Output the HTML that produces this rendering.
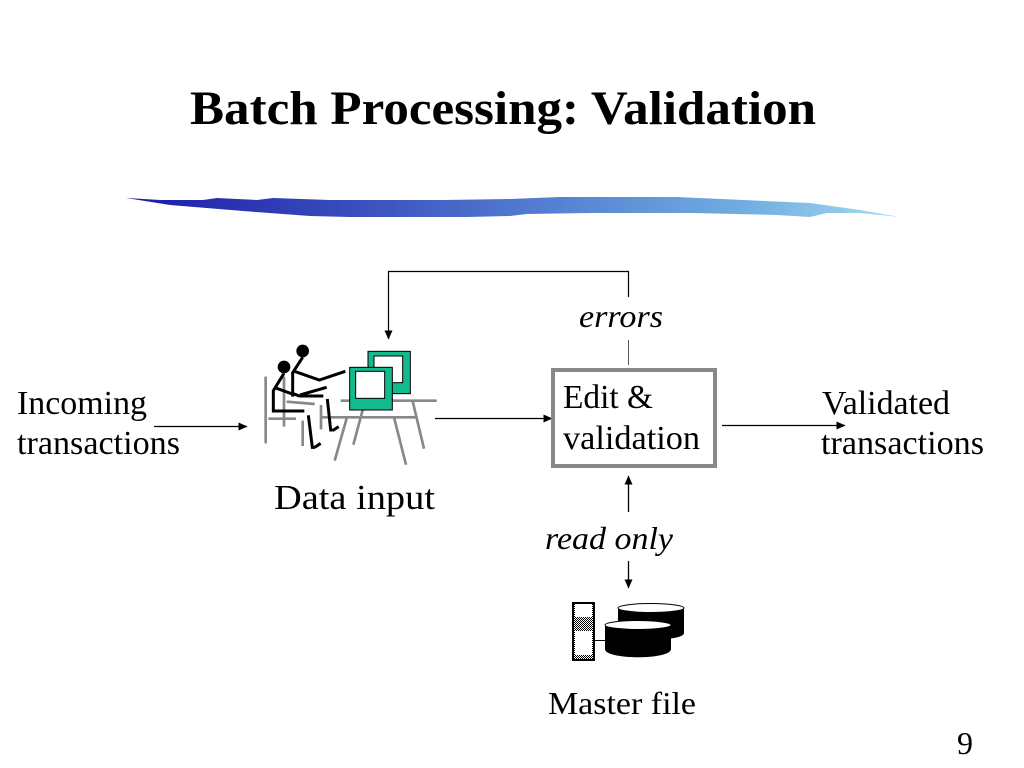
<!DOCTYPE html>
<html>
<head>
<meta charset="utf-8">
<style>
html,body{margin:0;padding:0;background:#fff;width:1024px;height:768px;overflow:hidden}
svg{display:block}
text{font-family:"Liberation Serif",serif;fill:#000}
</style>
</head>
<body>
<svg width="1024" height="768" viewBox="0 0 1024 768" xmlns="http://www.w3.org/2000/svg">
<defs>
<linearGradient id="b" x1="125" x2="900" y1="0" y2="0" gradientUnits="userSpaceOnUse">
<stop offset="0" stop-color="#1a1aa6"/>
<stop offset=".3" stop-color="#3a4fbd"/>
<stop offset=".55" stop-color="#5580d2"/>
<stop offset=".8" stop-color="#70ade0"/>
<stop offset="1" stop-color="#a8ddf2"/>
</linearGradient>
<marker id="a" markerWidth="9" markerHeight="8" refX="8.500" refY="4" orient="auto" markerUnits="userSpaceOnUse"><path d="M0 0L9 4L0 8Z" fill="#000"/></marker>
<pattern id="d" width="2" height="2" patternUnits="userSpaceOnUse"><rect width="2" height="2" fill="#fff"/><rect width="1" height="1" fill="#000"/><rect x="1" y="1" width="1" height="1" fill="#000"/></pattern>
</defs>

<text x="190" y="124" font-size="48" font-weight="bold" textLength="626" lengthAdjust="spacingAndGlyphs">Batch Processing: Validation</text>

<path fill="url(#b)" d="M126 198L160 200L203 200L217 198L257 200L273 198L330 200L443 200L510 199L560 197L677 197L743 200L810 203L860 210L900 217L860 213L827 213L810 217L777 215L693 213L590 213L527 214L510 216L467 217L350 217L310 216L243 211L170 205Z"/>

<!-- errors connector -->
<path d="M628.500 297V271.500H388.500V339" fill="none" stroke="#000" stroke-width="1.200" marker-end="url(#a)"/>
<path d="M628.500 340V365" stroke="#555" stroke-width="1"/>
<text x="579" y="327" font-size="32" font-style="italic" textLength="84" lengthAdjust="spacingAndGlyphs">errors</text>

<!-- person and desk -->
<g transform="translate(250 330) scale(.33333)" fill="none" stroke-linecap="butt">
<g stroke="#888" stroke-width="8">
<path d="M47 140V340M102 140V290M55 266H138M110 215L194 222M158 272V348M213 225V298M215 262H503"/>
<path d="M272 212H560M290 265L254 392M338 240L310 344M432 262L468 404M488 214L522 356"/>
</g>
<g stroke="#000" stroke-width="9">
<path d="M158 82L128 128V200M128 122L208 150L286 124M128 190L148 198H220M150 195L230 172"/>
<path d="M102 130L70 182V243H163M72 172L135 195M175 256L187 352L195 352M232 207L242 300L248 300M194 352L212 340M248 302L266 290"/>
</g>
<circle cx="158" cy="63" r="19" fill="#000"/>
<circle cx="102" cy="111" r="19" fill="#000"/>
<rect x="354" y="64" width="127" height="127" fill="#14b98c" stroke="#000" stroke-width="3"/>
<rect x="372" y="78" width="86" height="80" fill="#fff" stroke="#000" stroke-width="3"/>
<rect x="299" y="112" width="128" height="128" fill="#14b98c" stroke="#000" stroke-width="3"/>
<rect x="317" y="124" width="87" height="81" fill="#fff" stroke="#000" stroke-width="3"/>
</g>

<!-- left text -->
<text x="17" y="414" font-size="34" textLength="130" lengthAdjust="spacingAndGlyphs">Incoming</text>
<text x="17" y="454" font-size="34" textLength="163" lengthAdjust="spacingAndGlyphs">transactions</text>
<path d="M154 426.500H247" stroke="#000" stroke-width="1.300" marker-end="url(#a)"/>
<text x="274" y="509" font-size="35" textLength="161" lengthAdjust="spacingAndGlyphs">Data input</text>
<path d="M435 418.500H552" stroke="#000" stroke-width="1.300" marker-end="url(#a)"/>

<!-- edit box -->
<rect x="553" y="370" width="162" height="96" fill="#fff" stroke="#888" stroke-width="4"/>
<text x="563" y="408" font-size="34" textLength="90" lengthAdjust="spacingAndGlyphs">Edit &amp;</text>
<text x="563" y="449" font-size="34" textLength="137" lengthAdjust="spacingAndGlyphs">validation</text>

<!-- right -->
<path d="M722 425.500H845" stroke="#000" stroke-width="1.300" marker-end="url(#a)"/>
<text x="822" y="414" font-size="34" textLength="128" lengthAdjust="spacingAndGlyphs">Validated</text>
<text x="821" y="454" font-size="34" textLength="163" lengthAdjust="spacingAndGlyphs">transactions</text>

<!-- read only -->
<path d="M628.500 512V476" stroke="#000" stroke-width="1.300" marker-end="url(#a)"/>
<text x="545" y="549" font-size="32" font-style="italic" textLength="128" lengthAdjust="spacingAndGlyphs">read only</text>
<path d="M628.500 561V588" stroke="#000" stroke-width="1.300" marker-end="url(#a)"/>

<!-- database -->
<g>
<rect x="573" y="603" width="21" height="57" fill="url(#d)" stroke="#000" stroke-width="2"/>
<rect x="575" y="604" width="17" height="13" fill="#fff"/>
<rect x="575" y="631" width="17" height="24" fill="#fff"/>
<path d="M594 640.500H605" stroke="#000"/>
<path d="M618 608V633C618 642 684 642 684 633V608Z" fill="#000"/>
<ellipse cx="651" cy="608" rx="33" ry="4.500" fill="#fff" stroke="#000" stroke-width="1"/>
<path d="M605 625V649C605 660 671 660 671 649V625Z" fill="#000"/>
<ellipse cx="638" cy="625" rx="33" ry="4.500" fill="#fff" stroke="#000" stroke-width="1"/>
</g>
<text x="548" y="714" font-size="32" textLength="148" lengthAdjust="spacingAndGlyphs">Master file</text>
<text x="957" y="754" font-size="32">9</text>
</svg>
</body>
</html>
